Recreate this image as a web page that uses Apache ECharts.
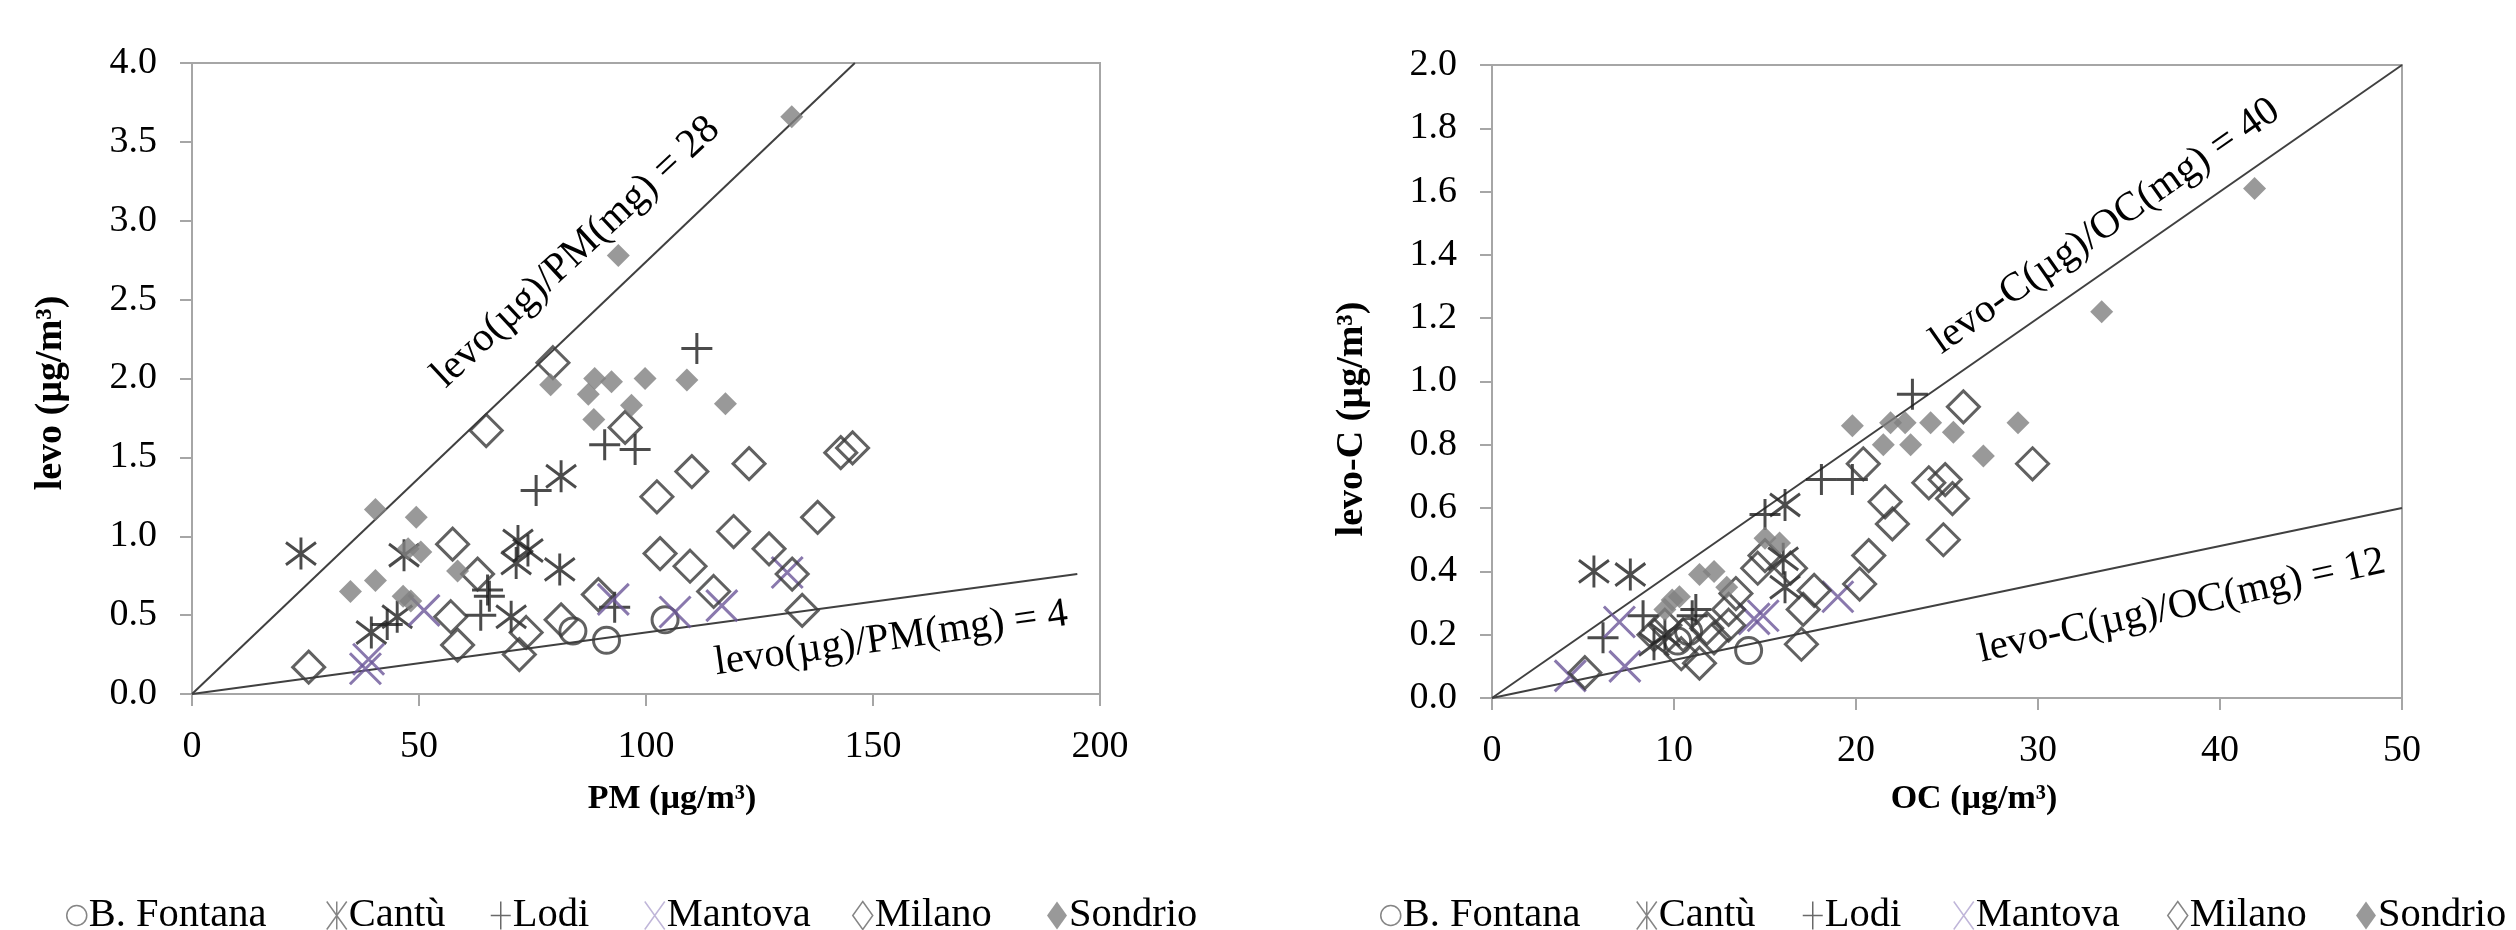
<!DOCTYPE html>
<html>
<head>
<meta charset="utf-8">
<script src="https://cdn.jsdelivr.net/npm/echarts@6/dist/echarts.min.js"></script>
<style>
  html, body { margin: 0; padding: 0; background: #fff; }
  #chart { width: 2516px; height: 930px; }
</style>
</head>
<body>
<div id="chart"></div>
<script>
// sites, in legend order
var SITES = ['B. Fontana', 'Cantù', 'Lodi', 'Mantova', 'Milano', 'Sondrio']

// left panel: PM (µg/m³) vs levo (µg/m³)
var pmFontana = [[83.9, 0.40], [91.3, 0.34], [104.2, 0.47]]
var pmCantu = [[24.0, 0.89], [46.7, 0.88], [71.8, 0.97], [74.0, 0.91], [71.4, 0.83], [81.3, 1.38], [81.0, 0.79], [39.5, 0.39], [45.2, 0.49], [70.3, 0.49]]
var pmLodi = [[75.8, 1.29], [90.9, 1.58], [97.6, 1.55], [111.2, 2.19], [65.1, 0.66], [65.5, 0.62], [63.6, 0.50], [93.1, 0.55], [43.0, 0.44]]
var pmMantova = [[51.1, 0.53], [38.9, 0.22], [38.2, 0.16], [92.8, 0.60], [106.4, 0.52], [116.7, 0.56], [131.1, 0.77]]
var pmMilano = [[79.5, 2.10], [64.8, 1.67], [57.4, 0.95], [62.9, 0.76], [25.7, 0.17], [57.0, 0.49], [58.5, 0.31], [73.6, 0.39], [72.1, 0.25], [81.3, 0.47], [89.5, 0.63], [95.4, 1.69], [142.9, 1.53], [145.5, 1.56], [122.7, 1.46], [110.1, 1.41], [102.4, 1.25], [137.8, 1.12], [119.3, 1.03], [103.1, 0.89], [109.7, 0.81], [127.1, 0.92], [132.2, 0.76], [114.9, 0.65], [134.4, 0.53]]
var pmSondrio = [[132.1, 3.66], [93.9, 2.78], [79.0, 1.96], [88.7, 2.00], [92.4, 1.98], [99.8, 2.00], [109.0, 1.99], [87.3, 1.90], [96.8, 1.83], [88.5, 1.74], [117.5, 1.84], [40.4, 1.17], [49.4, 1.12], [34.9, 0.65], [40.4, 0.72], [47.6, 0.92], [50.4, 0.90], [58.5, 0.78], [46.5, 0.62], [48.2, 0.59]]
var pmRatioHigh = [[0, 0], [146, 4.0]]
var pmRatioLow = [[0, 0], [195, 0.76]]

// right panel: OC (µg/m³) vs levo-C (µg/m³)
var ocFontana = [[10.2, 0.18], [10.8, 0.21], [14.1, 0.15]]
var ocCantu = [[5.6, 0.40], [7.6, 0.39], [16.1, 0.61], [16.0, 0.44], [16.1, 0.35], [8.9, 0.17], [9.5, 0.20]]
var ocLodi = [[6.1, 0.19], [8.3, 0.26], [11.2, 0.28], [11.0, 0.26], [15.0, 0.58], [18.1, 0.69], [19.8, 0.69], [23.1, 0.96]]
var ocMantova = [[4.3, 0.07], [7.0, 0.24], [7.3, 0.10], [14.4, 0.25], [14.9, 0.26], [19.0, 0.32]]
var ocMilano = [[5.1, 0.08], [8.9, 0.20], [9.5, 0.23], [10.4, 0.14], [10.5, 0.20], [11.4, 0.11], [11.8, 0.22], [12.2, 0.19], [13.0, 0.23], [13.0, 0.28], [13.4, 0.33], [14.6, 0.41], [15.0, 0.45], [16.4, 0.41], [17.1, 0.28], [17.7, 0.34], [17.0, 0.17], [20.2, 0.36], [20.7, 0.45], [20.4, 0.74], [21.6, 0.62], [22.0, 0.55], [24.0, 0.68], [24.9, 0.69], [25.3, 0.63], [24.8, 0.50], [25.9, 0.92], [29.7, 0.74]]
var ocSondrio = [[41.9, 1.61], [33.5, 1.22], [19.8, 0.86], [21.9, 0.87], [22.7, 0.87], [24.1, 0.87], [28.9, 0.87], [21.5, 0.80], [23.0, 0.80], [25.35, 0.84], [27.0, 0.765], [11.4, 0.39], [12.2, 0.40], [10.3, 0.32], [9.9, 0.31], [9.5, 0.28], [12.9, 0.35], [15.0, 0.505], [15.8, 0.49]]
var ocRatioHigh = [[0, 0], [50, 2.0]]
var ocRatioLow = [[0, 0], [50, 0.6]]

// ratio line labels, anchored at [x, y] in data units
var LINE_LABELS = [
  { text: 'levo(µg)/PM(mg) = 28', grid: 0, at: [84.6, 2.80], angle: 43 },
  { text: 'levo(µg)/PM(mg) = 4', grid: 0, at: [154.0, 0.35], angle: 8 },
  { text: 'levo-C(µg)/OC(mg) = 40', grid: 1, at: [33.7, 1.49], angle: 35 },
  { text: 'levo-C(µg)/OC(mg) = 12', grid: 1, at: [37.9, 0.29], angle: 12.5 }
]

// legend icon centres (px) under each panel
var LEGEND_X_LEFT = [76, 336, 500, 654, 862, 1057]
var LEGEND_X_RIGHT = [1390, 1646, 1812, 1963, 2177, 2366]

var FONT = '"Liberation Serif", "Times New Roman", serif'
var AXIS_COLOR = '#a6a6a6'
var CLEAR = 'rgba(0,0,0,0)'

var STYLES = {
  'B. Fontana': { symbol: 'circle', size: 26, item: { color: CLEAR, borderColor: '#3a3a3a', borderWidth: 3 } },
  'Cantù': { symbol: 'path://M10,0L10,20M0,3L20,17M20,3L0,17', size: [30, 32], item: { color: CLEAR, borderColor: '#1e1e1e', borderWidth: 3 } },
  'Lodi': { symbol: 'path://M10,0L10,20M0,10L20,10', size: 31, item: { color: CLEAR, borderColor: '#1e1e1e', borderWidth: 3 } },
  'Mantova': { symbol: 'path://M0,0L20,20M20,0L0,20', size: 31, item: { color: CLEAR, borderColor: '#6c5699', borderWidth: 3 } },
  'Milano': { symbol: 'diamond', size: 32, item: { color: CLEAR, borderColor: '#3a3a3a', borderWidth: 3 } },
  'Sondrio': { symbol: 'diamond', size: 23, item: { color: '#808080', borderWidth: 0 } }
}

var LEGEND_ICONS = {
  'B. Fontana': { icon: 'circle', style: { color: CLEAR, borderColor: '#666', borderWidth: 1.5 } },
  'Cantù': { icon: 'path://M10,0L10,28M0,0L20,28M20,0L0,28', style: { color: CLEAR, borderColor: '#666', borderWidth: 1.5 } },
  'Lodi': { icon: 'path://M10,0L10,28M0,14L20,14', style: { color: CLEAR, borderColor: '#444', borderWidth: 1.5 } },
  'Mantova': { icon: 'path://M0,0L20,28M20,0L0,28', style: { color: CLEAR, borderColor: '#b0a4d0', borderWidth: 1.5 } },
  'Milano': { icon: 'path://M10,0L20,14L10,28L0,14Z', style: { color: CLEAR, borderColor: '#666', borderWidth: 1.5 } },
  'Sondrio': { icon: 'path://M10,0L20,14L10,28L0,14Z', style: { color: '#808080', borderWidth: 0 } }
}

function scatter(name, data, idx) {
  var s = STYLES[name]
  return {
    name: name,
    type: 'scatter',
    xAxisIndex: idx,
    yAxisIndex: idx,
    data: data,
    symbol: s.symbol,
    symbolSize: s.size,
    itemStyle: s.item,
    z: 3
  }
}

function ratioLine(data, idx) {
  return {
    type: 'line',
    xAxisIndex: idx,
    yAxisIndex: idx,
    data: data,
    symbol: 'none',
    silent: true,
    lineStyle: { color: '#404040', width: 2 },
    z: 2
  }
}

function valueAxis(idx, min, max, step, isY) {
  return {
    type: 'value',
    gridIndex: idx,
    min: min,
    max: max,
    interval: step,
    axisLine: { show: true, lineStyle: { color: AXIS_COLOR, width: 2 } },
    axisTick: { show: true, inside: false, length: 12, lineStyle: { color: AXIS_COLOR, width: 2 } },
    splitLine: { show: false },
    axisLabel: {
      color: '#000',
      fontFamily: FONT,
      fontSize: 38,
      margin: isY ? 35 : 34,
      formatter: isY ? function (v) { return v.toFixed(1) } : null
    }
  }
}

// one legend block per item so each entry sits where the reference has it
function legendItem(name, cx) {
  return {
    data: [{ name: name, icon: LEGEND_ICONS[name].icon, itemStyle: LEGEND_ICONS[name].style }],
    left: cx - 10,
    top: 895,
    padding: 0,
    itemWidth: 20,
    itemHeight: 28,
    selectedMode: false,
    textStyle: { color: '#000', fontFamily: FONT, fontSize: 40.5, padding: [0, 0, 0, -3] }
  }
}

var legends = []
SITES.forEach(function (name, i) {
  legends.push(legendItem(name, LEGEND_X_LEFT[i]))
  legends.push(legendItem(name, LEGEND_X_RIGHT[i]))
})

function title(text, x, y, vertical, size) {
  return {
    type: 'text',
    x: x,
    y: y,
    rotation: vertical ? Math.PI / 2 : 0,
    style: {
      text: text,
      fill: '#000',
      font: 'bold ' + size + 'px ' + FONT,
      textAlign: 'center',
      textVerticalAlign: 'middle'
    }
  }
}

var chart = echarts.init(document.getElementById('chart'))

chart.setOption({
  animation: false,
  backgroundColor: '#fff',
  grid: [
    { left: 192, top: 63, width: 908, height: 631, show: true, borderColor: AXIS_COLOR, borderWidth: 2 },
    { left: 1492, top: 65, width: 910, height: 633, show: true, borderColor: AXIS_COLOR, borderWidth: 2 }
  ],
  xAxis: [valueAxis(0, 0, 200, 50, false), valueAxis(1, 0, 50, 10, false)],
  yAxis: [valueAxis(0, 0, 4, 0.5, true), valueAxis(1, 0, 2, 0.2, true)],
  legend: legends,
  series: [
    ratioLine(pmRatioHigh, 0),
    ratioLine(pmRatioLow, 0),
    ratioLine(ocRatioHigh, 1),
    ratioLine(ocRatioLow, 1),
    scatter('B. Fontana', pmFontana, 0),
    scatter('Cantù', pmCantu, 0),
    scatter('Lodi', pmLodi, 0),
    scatter('Mantova', pmMantova, 0),
    scatter('Milano', pmMilano, 0),
    scatter('Sondrio', pmSondrio, 0),
    scatter('B. Fontana', ocFontana, 1),
    scatter('Cantù', ocCantu, 1),
    scatter('Lodi', ocLodi, 1),
    scatter('Mantova', ocMantova, 1),
    scatter('Milano', ocMilano, 1),
    scatter('Sondrio', ocSondrio, 1)
  ]
})

// titles and ratio labels; labels follow the axes through convertToPixel
var graphics = [
  title('levo (µg/m³)', 51, 393, true, 38),
  title('PM (µg/m³)', 672, 799, false, 34),
  title('levo-C (µg/m³)', 1352, 419, true, 38),
  title('OC (µg/m³)', 1974, 799, false, 34)
]
LINE_LABELS.forEach(function (lbl) {
  var p = chart.convertToPixel({ xAxisIndex: lbl.grid, yAxisIndex: lbl.grid }, lbl.at)
  graphics.push({
    type: 'text',
    x: p[0],
    y: p[1],
    rotation: lbl.angle * Math.PI / 180,
    style: {
      text: lbl.text,
      fill: '#000',
      font: '41px ' + FONT,
      textAlign: 'center',
      textVerticalAlign: 'middle'
    }
  })
})
chart.setOption({ graphic: graphics })
</script>
</body>
</html>
